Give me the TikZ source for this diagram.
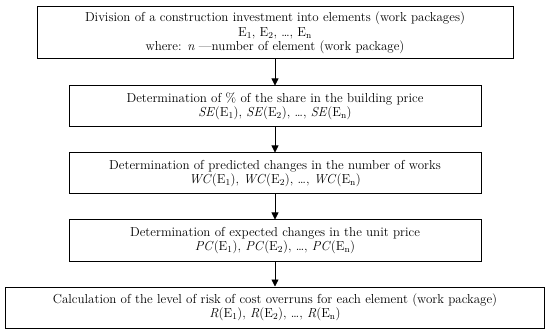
\documentclass[tikz,border=0pt]{standalone}
\usepackage{tikz}
\usetikzlibrary{arrows.meta,positioning}

\begin{document}
\begin{tikzpicture}[node distance=25pt,
    stage/.style={draw,line width=1pt,align=center,minimum height=41pt,inner sep=3pt,
      font=\fontsize{13}{14.5}\selectfont},
    flow/.style={-{Triangle[length=7pt,width=7pt]},line width=0.8pt}]
  \useasboundingbox (0,0) rectangle (550pt,-329pt);
  \node[stage,minimum width=476pt,minimum height=52pt] (split) at (275pt,-33pt)
    {Division of a construction investment into elements (work packages)\\
     E\textsubscript{1}, E\textsubscript{2}, \ldots, E\textsubscript{n}\\
     where: \textit{n} ---number of element (work package)};
  \node[stage,minimum width=412pt,below=26pt of split] (share)
    {Determination of \% of the share in the building price\\
     \textit{SE}(E\textsubscript{1}), \textit{SE}(E\textsubscript{2}), \ldots, \textit{SE}(E\textsubscript{n})};
  \node[stage,minimum width=412pt,below=of share] (works)
    {Determination of predicted changes in the number of works\\
     \textit{WC}(E\textsubscript{1}), \textit{WC}(E\textsubscript{2}), \ldots, \textit{WC}(E\textsubscript{n})};
  \node[stage,minimum width=412pt,below=of works] (unit)
    {Determination of expected changes in the unit price\\
     \textit{PC}(E\textsubscript{1}), \textit{PC}(E\textsubscript{2}), \ldots, \textit{PC}(E\textsubscript{n})};
  \node[stage,minimum width=539pt,below=of unit] (risk)
    {Calculation of the level of risk of cost overruns for each element (work package)\\
     \textit{R}(E\textsubscript{1}), \textit{R}(E\textsubscript{2}), \ldots, \textit{R}(E\textsubscript{n})};
  \draw[flow] (split) -- (share);
  \draw[flow] (share) -- (works);
  \draw[flow] (works) -- (unit);
  \draw[flow] (unit) -- (risk);
\end{tikzpicture}
\end{document}
